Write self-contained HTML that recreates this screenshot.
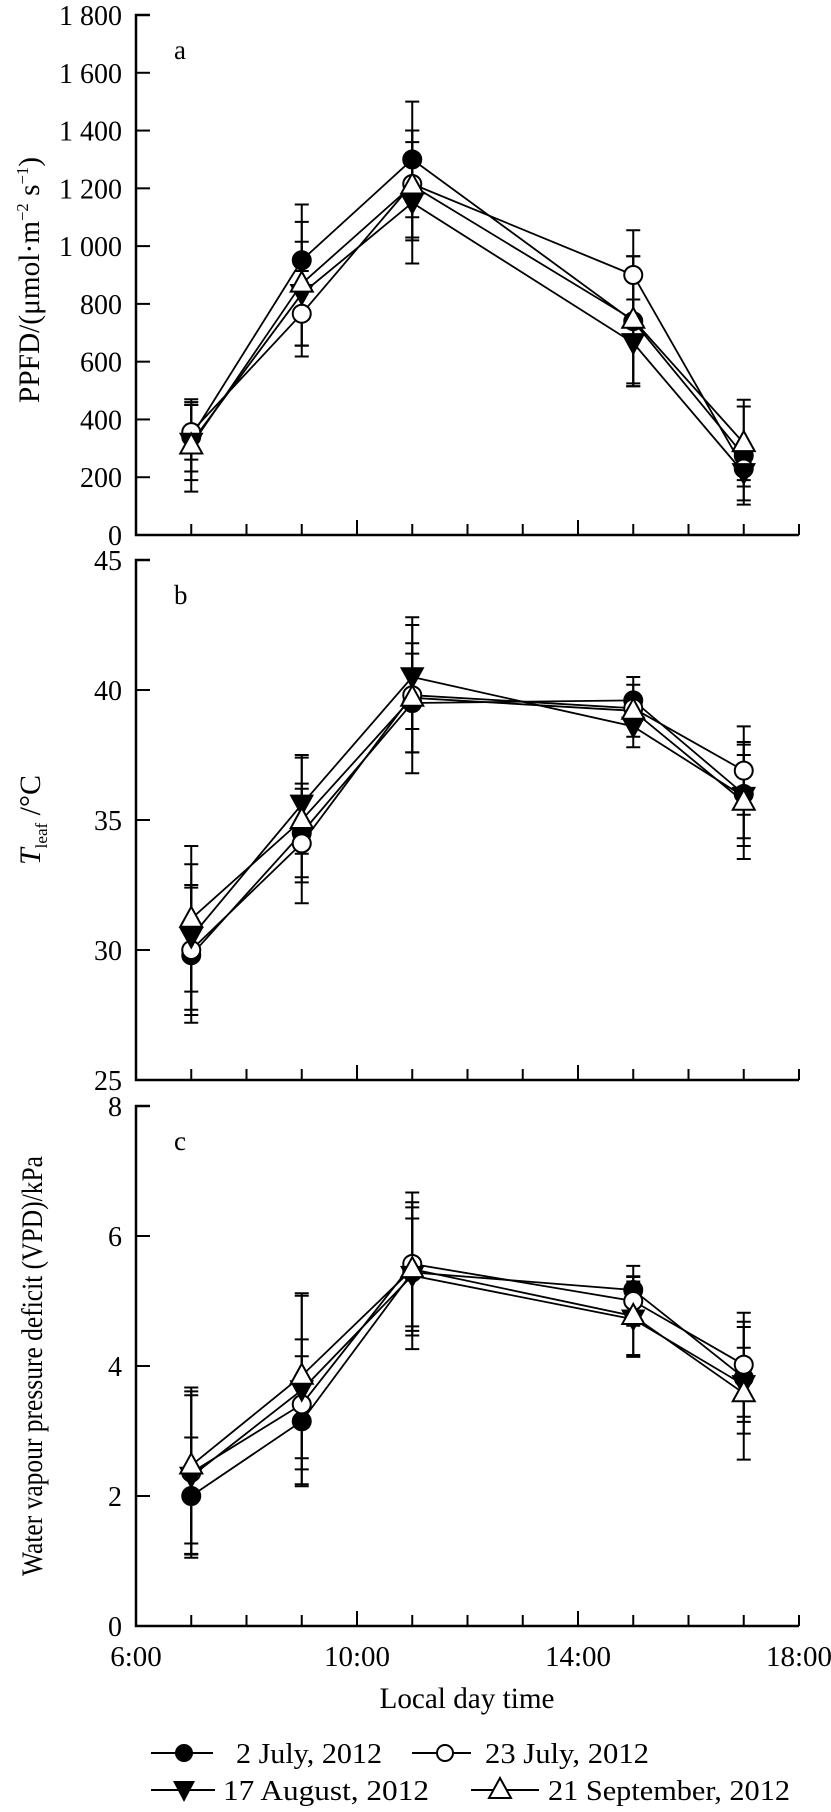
<!DOCTYPE html>
<html><head><meta charset="utf-8"><style>
html,body{margin:0;padding:0;background:#fff;}
svg{display:block;font-family:"Liberation Serif",serif;}
</style></head><body>
<svg id="chart" width="831" height="1812" viewBox="0 0 831 1812" xmlns="http://www.w3.org/2000/svg"></svg>
<script>
const hours = [7, 9, 11, 15, 17];
const seriesNames = ["2 July, 2012", "23 July, 2012", "17 August, 2012", "21 September, 2012"];
const markerTypes = ["filledCircle", "openCircle", "downTriangle", "upTriangle"];
// Panel a: PPFD
const ppfdJul2 = [340, 951, 1300, 740, 275];
const ppfdJul23 = [356, 766, 1215, 900, 230];
const ppfdAug17 = [320, 835, 1150, 665, 215];
const ppfdSep21 = [310, 870, 1210, 745, 318];
const ppfdErrJul2 = [120, 193, 200, 225, 170];
const ppfdErrJul23 = [95, 148, 185, 155, 40];
const ppfdErrAug17 = [130, 180, 210, 150, 95];
const ppfdErrSep21 = [160, 214, 190, 220, 150];
// Panel b: Tleaf
const tleafJul2 = [29.8, 34.5, 39.5, 39.6, 36.0];
const tleafJul23 = [30.0, 34.1, 39.8, 39.3, 36.9];
const tleafAug17 = [30.5, 35.6, 40.5, 38.6, 35.9];
const tleafSep21 = [31.2, 35.0, 39.7, 39.2, 35.7];
const tleafErrJul2 = [2.6, 1.7, 1.9, 0.9, 2.0];
const tleafErrJul23 = [2.5, 2.3, 3.0, 0.5, 1.7];
const tleafErrAug17 = [2.8, 1.9, 2.0, 0.8, 1.6];
const tleafErrSep21 = [2.8, 2.4, 2.1, 1.0, 2.2];
// Panel c: VPD
const vpdJul2 = [2.0, 3.15, 5.44, 5.17, 3.82];
const vpdJul23 = [2.36, 3.41, 5.57, 5.0, 4.02];
const vpdAug17 = [2.3, 3.63, 5.39, 4.72, 3.71];
const vpdSep21 = [2.47, 3.85, 5.49, 4.77, 3.58];
const vpdErrJul2 = [0.9, 1.0, 0.83, 0.37, 0.86];
const vpdErrJul23 = [1.25, 1.0, 1.1, 0.38, 0.8];
const vpdErrAug17 = [1.25, 1.45, 1.13, 0.58, 0.57];
const vpdErrSep21 = [1.2, 1.27, 0.95, 0.6, 1.02];
const ppfdTicks = [0, 200, 400, 600, 800, 1000, 1200, 1400, 1600, 1800];
const ppfdTickLabels = ["0", "200", "400", "600", "800", "1 000", "1 200", "1 400", "1 600", "1 800"];
const tleafTicks = [25, 30, 35, 40, 45];
const vpdTicks = [0, 2, 4, 6, 8];
const xTickHours = [6,7,8,9,10,11,12,13,14,15,16,17,18];
const xLabelHours = [6, 10, 14, 18];
const xLabels = ["6:00", "10:00", "14:00", "18:00"];

const NS = "http://www.w3.org/2000/svg";
const svg = document.getElementById('chart');
const X0 = 136, X1 = 799;
function xs(h){ return X0 + (h - 6) / 12 * (X1 - X0); }
function mk(tag, attrs, parent){
  const e = document.createElementNS(NS, tag);
  for (const k in attrs) e.setAttribute(k, attrs[k]);
  (parent || svg).appendChild(e);
  return e;
}
function marker(g, type, cx, cy){
  let e;
  if (type === "filledCircle" || type === "openCircle") {
    e = mk('circle', {cx: cx, cy: cy, r: 9, fill: type === "filledCircle" ? "#000" : "#fff", stroke: "#000", "stroke-width": 2}, g);
  } else if (type === "downTriangle") {
    e = mk('polygon', {points: `${cx-11},${cy-9} ${cx+11},${cy-9} ${cx},${cy+11}`, fill: "#000", stroke: "#000", "stroke-width": 1.5}, g);
  } else {
    e = mk('polygon', {points: `${cx},${cy-12} ${cx+11},${cy+8} ${cx-11},${cy+8}`, fill: "#fff", stroke: "#000", "stroke-width": 2}, g);
  }
  
  
  return e;
}

function panel(cfg){
  const top = cfg.top, bot = cfg.bot;
  const ys = v => bot - (v - cfg.min) / (cfg.max - cfg.min) * (bot - top);
  const g = mk('g', {});
  
  
  const ax = mk('path', {d: `M${X0+14},${top} H${X0} V${bot} H${X1}`, fill: "none", stroke: "#000", "stroke-width": 2.5}, g);
  
  
  cfg.ticks.forEach((t, i) => {
    const y = ys(t);
    const tk = mk('line', {x1: X0, x2: X0 + 14, y1: y, y2: y, stroke: "#000", "stroke-width": 2}, g);
    
    
    const tl = mk('text', {x: 122, y: y + 10, "text-anchor": "end", "font-size": 28}, g);
    tl.textContent = cfg.tickLabels ? cfg.tickLabels[i] : String(t);
    
    
  });
  xTickHours.forEach(h => {
    const x = xs(h);
    const len = (h === 10 || h === 14) ? 15 : 11;
    const tk = mk('line', {x1: x, x2: x, y1: bot, y2: bot - len, stroke: "#000", "stroke-width": 2}, g);
    
    
  });
  const lt = mk('text', {x: 174, y: top + 44, "font-size": 27}, g);
  lt.textContent = cfg.id;
  
  
  cfg.series.forEach((vals, s) => {
    vals.forEach((v, i) => {
      const x = xs(hours[i]), e = cfg.errs[s][i];
      const y1 = ys(v + e), y2 = ys(v - e);
      const eb = mk('path', {d: `M${x},${y1} V${y2} M${x-7},${y1} H${x+7} M${x-7},${y2} H${x+7}`, stroke: "#000", "stroke-width": 2, fill: "none"}, g);
      
      
    });
  });
  cfg.series.forEach((vals, s) => {
    const pts = vals.map((v, i) => xs(hours[i]) + ',' + ys(v)).join(' ');
    const pl = mk('polyline', {points: pts, fill: "none", stroke: "#000", "stroke-width": 1.8}, g);
    
    
  });
  cfg.series.forEach((vals, s) => {
    vals.forEach((v, i) => marker(g, markerTypes[s], xs(hours[i]), ys(v)));
  });
}

panel({id: "a", top: 15, bot: 535, min: 0, max: 1800, ticks: ppfdTicks, tickLabels: ppfdTickLabels,
  series: [ppfdJul2, ppfdJul23, ppfdAug17, ppfdSep21], errs: [ppfdErrJul2, ppfdErrJul23, ppfdErrAug17, ppfdErrSep21]});
panel({id: "b", top: 560, bot: 1080, min: 25, max: 45, ticks: tleafTicks,
  series: [tleafJul2, tleafJul23, tleafAug17, tleafSep21], errs: [tleafErrJul2, tleafErrJul23, tleafErrAug17, tleafErrSep21]});
panel({id: "c", top: 1106, bot: 1626, min: 0, max: 8, ticks: vpdTicks,
  series: [vpdJul2, vpdJul23, vpdAug17, vpdSep21], errs: [vpdErrJul2, vpdErrJul23, vpdErrAug17, vpdErrSep21]});

xLabelHours.forEach((h, i) => {
  const t = mk('text', {x: xs(h), y: 1666, "text-anchor": "middle", "font-size": 29});
  t.textContent = xLabels[i];
  
  
});
</script>
<svg style="position:absolute;left:0;top:0" width="831" height="1812" xmlns="http://www.w3.org/2000/svg">
  <text x="467" y="1708" text-anchor="middle" font-size="30" textLength="175" lengthAdjust="spacingAndGlyphs" font-family="Liberation Serif, serif">Local day time</text>
  <text transform="translate(39,280) rotate(-90)" text-anchor="middle" font-size="30" textLength="246" lengthAdjust="spacingAndGlyphs" font-family="Liberation Serif, serif">PPFD/(μmol·m<tspan font-size="17" dy="-11">−2</tspan><tspan dy="11"> s</tspan><tspan font-size="17" dy="-11">−1</tspan><tspan dy="11">)</tspan></text>
  <text transform="translate(40,820) rotate(-90)" text-anchor="middle" font-size="30" font-family="Liberation Serif, serif"><tspan font-style="italic">T</tspan><tspan font-size="17" dy="7">leaf</tspan><tspan dy="-7"> /°C</tspan></text>
  <text transform="translate(42,1366) rotate(-90)" text-anchor="middle" font-size="30" textLength="420" lengthAdjust="spacingAndGlyphs" font-family="Liberation Serif, serif">Water vapour pressure deficit (VPD)/kPa</text>
  <g font-size="28" font-family="Liberation Serif, serif">
    <g>
      <line x1="151" x2="213" y1="1753" y2="1753" stroke="#000" stroke-width="2"/>
      <circle cx="184" cy="1753" r="9" fill="#000"/>
      <text x="236" y="1763" textLength="146" lengthAdjust="spacingAndGlyphs">2 July, 2012</text>
    </g>
    <g>
      <line x1="412" x2="471" y1="1753" y2="1753" stroke="#000" stroke-width="2"/>
      <circle cx="445" cy="1753" r="8" fill="#fff" stroke="#000" stroke-width="2"/>
      <text x="485" y="1763" textLength="164" lengthAdjust="spacingAndGlyphs">23 July, 2012</text>
    </g>
    <g>
      <line x1="151" x2="215" y1="1790" y2="1790" stroke="#000" stroke-width="2"/>
      <polygon points="173,1781 195,1781 184,1802" fill="#000"/>
      <text x="223" y="1800" textLength="206" lengthAdjust="spacingAndGlyphs">17 August, 2012</text>
    </g>
    <g>
      <line x1="471" x2="539" y1="1790" y2="1790" stroke="#000" stroke-width="2"/>
      <polygon points="500,1778 511,1798 489,1798" fill="#fff" stroke="#000" stroke-width="2"/>
      <text x="548" y="1800" textLength="242" lengthAdjust="spacingAndGlyphs">21 September, 2012</text>
    </g>
  </g>
</svg>
</body></html>
